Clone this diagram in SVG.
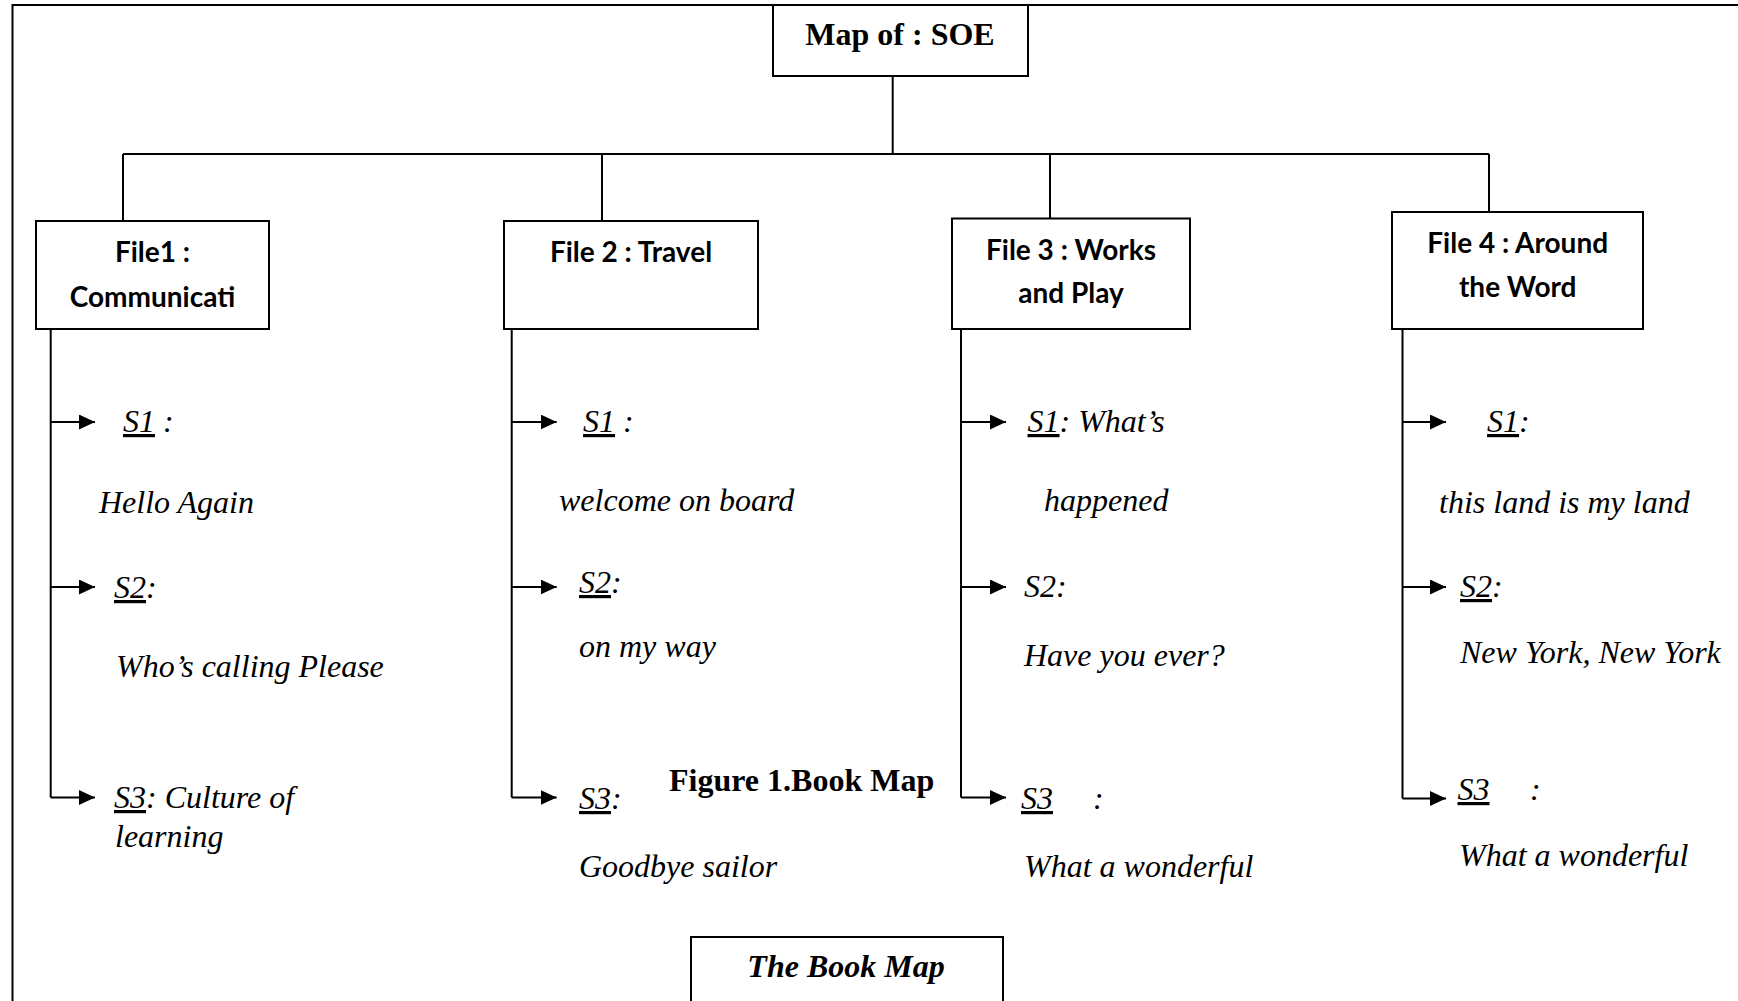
<svg xmlns="http://www.w3.org/2000/svg" width="1738" height="1001" viewBox="0 0 1738 1001">
<defs>
<style>
.box{fill:#fff;stroke:#000;stroke-width:2}
.ln{fill:none;stroke:#000;stroke-width:2}
.hd{font-family:"Lato","Liberation Sans",sans-serif;font-weight:bold;font-size:28px;fill:#000;text-anchor:middle}
.tb{font-family:"Liberation Serif","Times New Roman",serif;font-weight:bold;font-size:32px;fill:#000}
.ti{font-family:"Liberation Serif","Times New Roman",serif;font-style:italic;font-size:32px;fill:#000}
.u{text-decoration:underline}
</style>
<marker id="ah" markerUnits="userSpaceOnUse" markerWidth="16" markerHeight="15" refX="16" refY="7.5" orient="auto">
<path d="M0,0 L16,7.5 L0,15 z" fill="#000"/>
</marker>
</defs>
<rect width="1738" height="1001" fill="#fff"/>
<path class="ln" d="M12.5,1001 V5 H1738"/>

<g id="connectors">
<path class="ln" d="M892.7,76 V154 M123,154 H1489 M123,154 V221 M602,154 V221 M1050,154 V219 M1489,154 V212"/>
<path class="ln" d="M50.7,329 V797.5 M511.7,329 V797.5 M961,329 V797.5 M1402.5,329 V798.5"/>
<g class="ln" marker-end="url(#ah)">
<line x1="50.7" y1="422" x2="95" y2="422"/>
<line x1="50.7" y1="587" x2="95" y2="587"/>
<line x1="50.7" y1="797.5" x2="95" y2="797.5"/>
<line x1="511.7" y1="422" x2="556.7" y2="422"/>
<line x1="511.7" y1="587" x2="556.7" y2="587"/>
<line x1="511.7" y1="797.5" x2="556.7" y2="797.5"/>
<line x1="961" y1="422" x2="1006" y2="422"/>
<line x1="961" y1="587" x2="1006" y2="587"/>
<line x1="961" y1="797.5" x2="1006" y2="797.5"/>
<line x1="1402.5" y1="422" x2="1446" y2="422"/>
<line x1="1402.5" y1="587" x2="1446" y2="587"/>
<line x1="1402.5" y1="798.5" x2="1446" y2="798.5"/>
</g>
</g>

<g id="root">
<rect class="box" x="773" y="5" width="255" height="71"/>
<text class="tb" x="900" y="45" text-anchor="middle">Map of : SOE</text>
</g>

<g id="file1">
<rect class="box" x="36" y="221" width="233" height="108"/>
<text class="hd" x="152.5" y="261.5">File1 :</text>
<text class="hd" x="152.5" y="306.5">Communicati</text>
</g>
<g id="file2">
<rect class="box" x="504" y="221" width="254" height="108"/>
<text class="hd" x="631" y="261.5">File 2 : Travel</text>
</g>
<g id="file3">
<rect class="box" x="952" y="218.5" width="238" height="110.5"/>
<text class="hd" x="1071" y="260">File 3 : Works</text>
<text class="hd" x="1071" y="303">and Play</text>
</g>
<g id="file4">
<rect class="box" x="1392" y="212" width="251" height="117"/>
<text class="hd" x="1517.7" y="252.7">File 4 : Around</text>
<text class="hd" x="1517.7" y="297">the Word</text>
</g>

<g id="col1">
<text class="ti" x="123" y="432"><tspan class="u">S1</tspan> :</text>
<text class="ti" x="99" y="513">Hello Again</text>
<text class="ti" x="114" y="598"><tspan class="u">S2</tspan>:</text>
<text class="ti" x="116" y="677">Who’s calling Please</text>
<text class="ti" x="114" y="808"><tspan class="u">S3</tspan>: Culture of</text>
<text class="ti" x="115" y="847">learning</text>
</g>
<g id="col2">
<text class="ti" x="583" y="432"><tspan class="u">S1</tspan> :</text>
<text class="ti" x="559" y="511">welcome on board</text>
<text class="ti" x="579" y="593"><tspan class="u">S2</tspan>:</text>
<text class="ti" x="579" y="657">on my way</text>
<text class="ti" x="579" y="809"><tspan class="u">S3</tspan>:</text>
<text class="ti" x="579" y="877">Goodbye sailor</text>
</g>
<g id="col3">
<text class="ti" x="1027.5" y="432"><tspan class="u">S1</tspan>: What’s</text>
<text class="ti" x="1044" y="511">happened</text>
<text class="ti" x="1024" y="597">S2:</text>
<text class="ti" x="1024" y="666">Have you ever?</text>
<text class="ti" x="1021" y="809"><tspan class="u">S3</tspan><tspan x="1093">:</tspan></text>
<text class="ti" x="1024" y="877">What a wonderful</text>
</g>
<g id="col4">
<text class="ti" x="1487" y="432"><tspan class="u">S1</tspan>:</text>
<text class="ti" x="1439" y="513">this land is my land</text>
<text class="ti" x="1460" y="597"><tspan class="u">S2</tspan>:</text>
<text class="ti" x="1460" y="663">New York, New York</text>
<text class="ti" x="1457.5" y="800"><tspan class="u">S3</tspan><tspan x="1530">:</tspan></text>
<text class="ti" x="1459" y="866">What a wonderful</text>
</g>

<g id="caption">
<text class="tb" x="669" y="791">Figure 1.Book Map</text>
</g>
<g id="bookmap">
<rect class="box" x="691" y="937" width="312" height="80"/>
<text class="tb" x="846" y="977" text-anchor="middle" font-style="italic">The Book Map</text>
</g>
</svg>
